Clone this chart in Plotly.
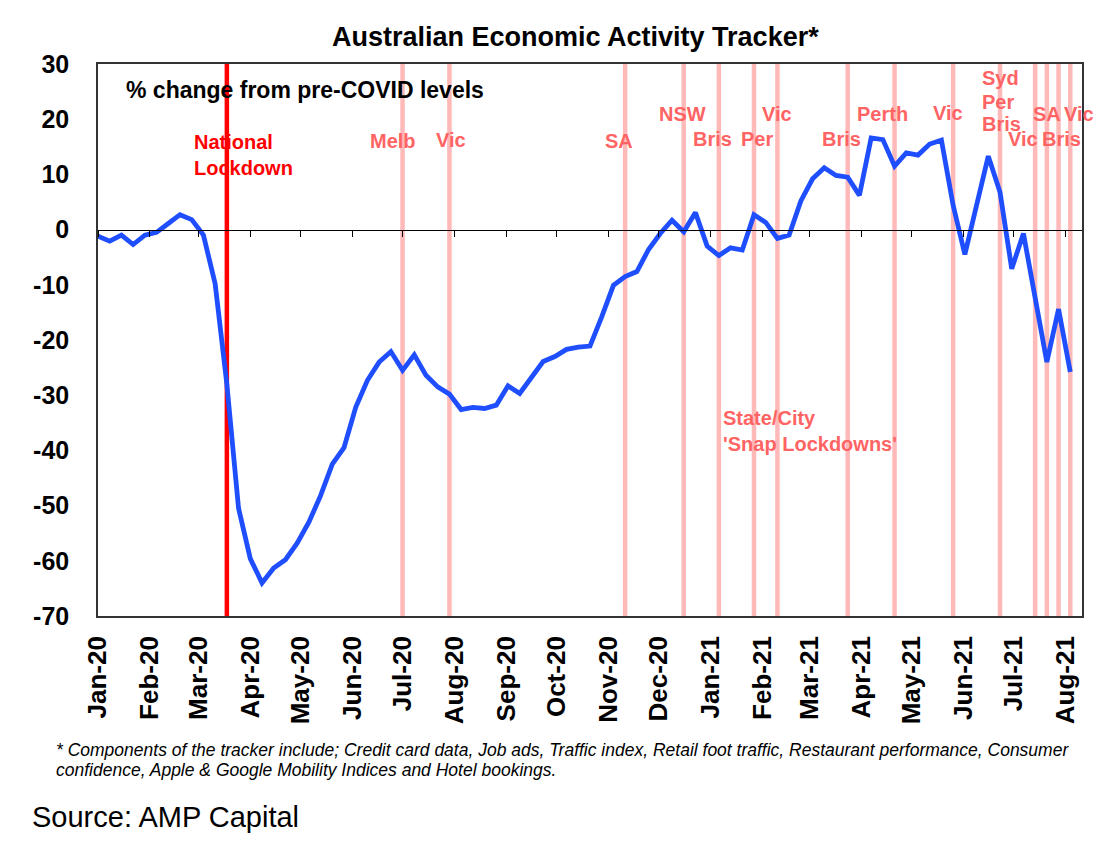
import plotly.graph_objects as go
import pandas as pd

# ---- data ----
start_date = "2020-01-01"
activity = [
    -1.2, -2.1, -1.0, -2.7, -1.0, -0.5, 1.1, 2.7, 1.8, -1.0,
    -9.8, -28.0, -50.5, -59.6, -64.0, -61.3, -59.8, -56.8, -53.0, -48.2,
    -42.5, -39.5, -32.2, -27.3, -24.0, -22.1, -25.5, -22.7, -26.4, -28.5,
    -29.8, -32.6, -32.2, -32.4, -31.8, -28.3, -29.7, -26.7, -23.9, -23.0,
    -21.7, -21.3, -21.1, -15.8, -10.1, -8.5, -7.6, -3.6, -0.7, 1.7,
    -0.4, 3.1, -3.0, -4.7, -3.3, -3.7, 2.7, 1.3, -1.6, -1.0,
    5.2, 9.2, 11.2, 9.8, 9.5, 6.2, 16.6, 16.3, 11.5, 13.9,
    13.5, 15.5, 16.2, 4.4, -4.5, 4.4, 13.3, 6.8, -7.1, -0.7,
    -12.2, -24.0, -14.4, -25.8,
]
dates = pd.date_range(start_date, periods=len(activity), freq="7D")

national_lockdown = "2020-03-18"
snap_lockdowns = [
    "2020-07-01", "2020-07-29", "2020-11-11", "2020-12-16", "2021-01-06",
    "2021-01-27", "2021-02-10", "2021-03-24", "2021-04-21", "2021-05-26",
    "2021-06-23", "2021-07-14", "2021-07-21", "2021-07-28", "2021-08-04",
]

tick_dates = pd.date_range("2020-01-01", "2021-08-01", freq="MS")
tick_labels = [
    "Jan-20", "Feb-20", "Mar-20", "Apr-20", "May-20", "Jun-20", "Jul-20",
    "Aug-20", "Sep-20", "Oct-20", "Nov-20", "Dec-20", "Jan-21", "Feb-21",
    "Mar-21", "Apr-21", "May-21", "Jun-21", "Jul-21", "Aug-21",
]
y_ticks = [30, 20, 10, 0, -10, -20, -30, -40, -50, -60, -70]
y_tick_labels = ["30", "20", "10", "0", "-10", "-20", "-30", "-40", "-50", "-60", "-70"]

# lockdown labels: (text, x, y, anchor)
snap_labels = [
    ("Melb", "2020-06-25", 16.0, "center"),
    ("Vic", "2020-07-30", 16.3, "center"),
    ("SA", "2020-11-07 12:00", 16.1, "center"),
    ("NSW", "2020-12-15", 20.9, "center"),
    ("Bris", "2021-01-02", 16.5, "center"),
    ("Per", "2021-01-29", 16.5, "center"),
    ("Vic", "2021-02-10", 20.9, "center"),
    ("Bris", "2021-03-20", 16.5, "center"),
    ("Perth", "2021-04-13 12:00", 20.9, "center"),
    ("Vic", "2021-05-23", 21.2, "center"),
    ("Syd", "2021-06-10 18:00", 27.4, "left"),
    ("Per", "2021-06-10 18:00", 23.2, "left"),
    ("Bris", "2021-06-10 18:00", 19.1, "left"),
    ("Vic", "2021-07-07", 16.5, "center"),
    ("SA", "2021-07-21", 20.9, "center"),
    ("Bris", "2021-07-30", 16.5, "center"),
    ("Vic", "2021-08-09", 20.9, "center"),
]

BLUE = "rgb(31,78,255)"
PINK_LINE = "rgb(255,185,185)"
PINK_TEXT = "rgb(255,100,100)"
RED = "rgb(255,0,0)"
FONT = "Liberation Sans, Arial, sans-serif"

fig = go.Figure()
fig.add_trace(go.Scatter(
    x=dates, y=activity, mode="lines",
    line=dict(color=BLUE, width=4.8), showlegend=False, hoverinfo="skip",
))
# invisible copy on the zero-crossing axis so that axis is drawn
fig.add_trace(go.Scatter(
    x=dates, y=activity, mode="lines", xaxis="x2",
    line=dict(color="rgba(0,0,0,0)", width=0), showlegend=False, hoverinfo="skip",
))

shapes = []
for d in snap_lockdowns:
    shapes.append(dict(type="line", xref="x", yref="paper", x0=d, x1=d, y0=0, y1=1,
                       line=dict(color=PINK_LINE, width=4.5), layer="below"))
shapes.append(dict(type="line", xref="x", yref="paper", x0=national_lockdown,
                   x1=national_lockdown, y0=0, y1=1,
                   line=dict(color=RED, width=4.5), layer="below"))

annotations = []
for text, x, y, anc in snap_labels:
    annotations.append(dict(text=text, x=x, y=y, xref="x", yref="y",
                            xanchor=anc, yanchor="middle", showarrow=False, align="left",
                            font=dict(family=FONT, size=20, color=PINK_TEXT, weight="bold")))
annotations += [
    dict(text="National<br>Lockdown", x="2020-02-26", y=13.5, xref="x", yref="y",
         xanchor="left", yanchor="middle", showarrow=False, align="left",
         font=dict(family=FONT, size=20, color=RED, weight="bold")),
    dict(text="State/City<br>'Snap Lockdowns'", x="2021-01-07", y=-36.4, xref="x",
         yref="y", xanchor="left", yanchor="middle", showarrow=False, align="left",
         font=dict(family=FONT, size=20, color=PINK_TEXT, weight="bold")),
    dict(text="% change from pre-COVID levels", x=(124 - 98) / 984, y=(616 - 90) / 552,
         xref="paper", yref="paper", xanchor="left", yanchor="middle", showarrow=False,
         font=dict(family=FONT, size=23, color="black", weight="bold")),
    dict(text="Australian Economic Activity Tracker*", x=(575 - 98) / 984,
         y=(616 - 37) / 552, xref="paper", yref="paper", xanchor="center", yanchor="middle",
         showarrow=False, font=dict(family=FONT, size=27, color="black", weight="bold")),
    dict(text="* Components of the tracker include; Credit card data, Job ads, Traffic index, "
              "Retail foot traffic, Restaurant performance, Consumer",
         x=(54 - 98) / 984, y=(616 - 750) / 552, xref="paper", yref="paper",
         xanchor="left", yanchor="middle", showarrow=False, align="left",
         font=dict(family=FONT, size=17.5, color="black", style="italic")),
    dict(text="confidence, Apple &amp; Google Mobility Indices and Hotel bookings.",
         x=(54 - 98) / 984, y=(616 - 769.5) / 552, xref="paper", yref="paper",
         xanchor="left", yanchor="middle", showarrow=False, align="left",
         font=dict(family=FONT, size=17.5, color="black", style="italic")),
    dict(text="Source: AMP Capital", x=(30 - 98) / 984, y=(616 - 817) / 552,
         xref="paper", yref="paper", xanchor="left", yanchor="middle", showarrow=False,
         font=dict(family=FONT, size=29, color="black")),
]

x_range = ["2020-01-01", "2021-08-11"]

# page body has an 8px offset, so the figure is made 8px smaller and margins shifted
fig.update_layout(
    width=1105, height=839,
    margin=dict(l=90, r=31, t=56, b=231),
    paper_bgcolor="white", plot_bgcolor="white",
    font=dict(family=FONT, color="black"),
    shapes=shapes, annotations=annotations,
    xaxis=dict(
        type="date", range=x_range, tickvals=tick_dates, ticktext=tick_labels,
        tickangle=-90, ticks="", showgrid=False, zeroline=False,
        showline=True, linecolor="#333", linewidth=1.5, mirror=True,
        tickfont=dict(family=FONT, size=26, color="black", weight="bold"),
        ticklabelstandoff=8,
    ),
    xaxis2=dict(
        type="date", overlaying="x", matches="x", anchor="free", position=0.7,
        tickvals=tick_dates, ticks="outside", ticklen=6, tickwidth=1.2, tickcolor="black",
        showticklabels=False, showgrid=False, zeroline=False,
        showline=True, linecolor="black", linewidth=1.2,
    ),
    yaxis=dict(
        range=[-70, 30], tickvals=y_ticks, ticktext=y_tick_labels, ticks="",
        showgrid=False, zeroline=False,
        showline=True, linecolor="#333", linewidth=1.5, mirror=True,
        tickfont=dict(family=FONT, size=25, color="black", weight="bold"),
        ticklabelstandoff=22,
    ),
)

fig.write_html("out.html")
